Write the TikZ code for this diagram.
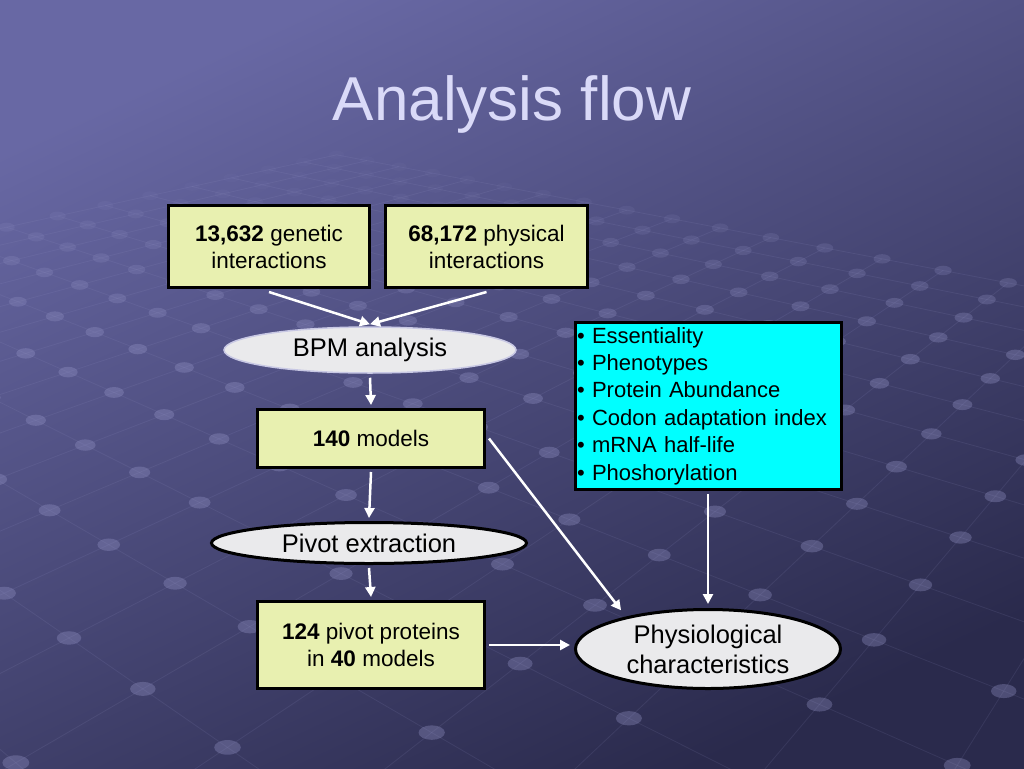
\documentclass[tikz,border=0pt]{standalone}
\usepackage{fontspec}
\setmainfont{Liberation Sans}
\usetikzlibrary{shapes.geometric,arrows.meta}
\definecolor{boxyellow}{RGB}{232,240,176}
\definecolor{ellgray}{RGB}{234,234,236}
\definecolor{ellrim}{RGB}{200,200,228}
\definecolor{titlecol}{RGB}{218,218,248}
\definecolor{bgtop}{RGB}{104,104,164}
\definecolor{bgbot}{RGB}{42,42,76}
\definecolor{dotcol}{RGB}{150,150,200}
\definecolor{boxcyan}{RGB}{0,255,255}
\begin{document}
\begin{tikzpicture}[x=1pt,y=-1pt,
  ybox/.style={draw=black,line width=3pt,fill=boxyellow,align=center,
    font=\fontsize{22.5}{27}\selectfont,inner sep=0pt},
  ell/.style={ellipse,fill=ellgray,inner sep=0pt,align=center,
    font=\fontsize{25.5}{30}\selectfont},
  flow/.style={draw=white,line width=2.5pt,-{Triangle[length=10pt,width=10pt]}},
  titlestyle/.style={font=\fontsize{62}{70}\selectfont,anchor=base},
  bgline/.style={draw=dotcol,opacity=0.13,line width=0.8pt}]
\useasboundingbox (0,0) rectangle (1024,768);
\shade[top color=bgtop,bottom color=bgbot,shading angle=25] (0,0) rectangle (1024,768);
% perspective dot grid of the background
\def\S{0.17}
\begin{scope}
\clip (0,0) rectangle (1024,768);
% faint grid lines
\foreach \a in {-20,...,0}{
  \pgfmathsetmacro\bend{min(18,(3.94+\S*0.78*\a-1.0)/(\S*0.629))}
  \pgfmathsetmacro\GXa{0.37+\S*(0.63*\a+0.778*(-8))}
  \pgfmathsetmacro\GZa{3.94+\S*(0.78*\a-0.629*(-8))}
  \pgfmathsetmacro\GXb{0.37+\S*(0.63*\a+0.778*\bend)}
  \pgfmathsetmacro\GZb{3.94+\S*(0.78*\a-0.629*\bend)}
  \pgfmathsetmacro\pxa{512+1222*\GXa/\GZa}
  \pgfmathsetmacro\pya{-100+1222/\GZa}
  \pgfmathsetmacro\pxb{512+1222*\GXb/\GZb}
  \pgfmathsetmacro\pyb{-100+1222/\GZb}
  \draw[bgline] (\pxa,\pya) -- (\pxb,\pyb);
}
\foreach \b in {-8,...,18}{
  \pgfmathsetmacro\aend{max(-20,(1.0-3.94+\S*0.629*\b)/(\S*0.78))}
  \pgfmathsetmacro\GXa{0.37+\S*(0.778*\b)}
  \pgfmathsetmacro\GZa{3.94+\S*(-0.629*\b)}
  \pgfmathsetmacro\GXb{0.37+\S*(0.63*\aend+0.778*\b)}
  \pgfmathsetmacro\GZb{3.94+\S*(0.78*\aend-0.629*\b)}
  \pgfmathsetmacro\pxa{512+1222*\GXa/\GZa}
  \pgfmathsetmacro\pya{-100+1222/\GZa}
  \pgfmathsetmacro\pxb{512+1222*\GXb/\GZb}
  \pgfmathsetmacro\pyb{-100+1222/\GZb}
  \ifdim\GZa pt>1.0pt
  \draw[bgline] (\pxa,\pya) -- (\pxb,\pyb);
  \fi
}
% dots
\foreach \a in {-20,...,0}{
 \foreach \b in {-8,...,18}{
  \pgfmathsetmacro\GX{0.37+\S*(0.63*\a+0.778*\b)}
  \pgfmathsetmacro\GZ{3.94+\S*(0.78*\a-0.629*\b)}
  \ifdim\GZ pt>1.1pt
   \pgfmathsetmacro\px{512+1222*\GX/\GZ}
   \pgfmathsetmacro\py{-100+1222/\GZ}
   \pgfmathsetmacro\rr{5+12/\GZ}
   \pgfmathsetmacro\op{0.34*max(0.15,min(1,(4.5-\GZ)/1.8))}
   \ifdim\px pt>-40pt\ifdim\px pt<1064pt
    \fill[dotcol,opacity=\op] (\px,\py) ellipse[x radius=\rr pt, y radius=0.55*\rr pt];
   \fi\fi
  \fi
 }}
\end{scope}
% title
\node[titlestyle,text=titlecol] (title) at (512,120) {Analysis flow};
% nodes
\node[ybox,minimum width=201pt,minimum height=82pt] (gen) at (269,246.5) {\textbf{13,632} genetic\\interactions};
\node[ybox,minimum width=202pt,minimum height=82pt] (phy) at (486.5,246.5) {\textbf{68,172} physical\\interactions};
\node[ell,draw=ellrim,line width=1.5pt,minimum width=292pt,minimum height=46pt] (bpm) at (370,350) {BPM analysis};
\node[ybox,minimum width=227pt,minimum height=58pt] (m140) at (371,438.5) {\textbf{140} models};
\node[ell,draw=black,line width=3pt,minimum width=315pt,minimum height=41pt] (pivot) at (369,543) {Pivot extraction};
\node[ybox,minimum width=227pt,minimum height=87pt] (p124) at (371,645) {\textbf{124} pivot proteins\\in \textbf{40} models};
\node[draw=black,line width=3pt,fill=boxcyan,minimum width=266pt,minimum height=167pt,
  text width=262pt,inner xsep=2pt,inner ysep=0pt,align=left,
  font=\fontsize{22}{27.4}\selectfont] (props) at (708,406)
  {• Essentiality\\• Phenotypes\\• Protein Abundance\\• Codon adaptation index\\• mRNA half-life\\• Phoshorylation};
\node[ell,draw=black,line width=3pt,minimum width=265pt,minimum height=79pt] (physio) at (708,649) {Physiological\\characteristics};
% connectors
\draw[flow] ([yshift=-3pt]gen.south) -- ([yshift=2pt]bpm.north);
\draw[flow] ([yshift=-3pt]phy.south) -- ([yshift=2pt]bpm.north);
\draw[flow] ([yshift=-4pt]bpm.south) -- ([yshift=3pt]m140.north);
\draw[flow] ([yshift=-3pt]m140.south) -- ([yshift=3pt]pivot.north);
\draw[flow] ([yshift=-3pt]pivot.south) -- ([yshift=3pt]p124.north);
\draw[flow] ([xshift=3pt]p124.east) -- ([xshift=-4pt]p124.east -| physio.west);
\draw[flow] ([xshift=3pt]m140.east) -- ([xshift=-6pt,yshift=6pt]physio.158);
\draw[flow] ([yshift=-3pt]props.south) -- ([yshift=4pt]physio.north);
\end{tikzpicture}
\end{document}
